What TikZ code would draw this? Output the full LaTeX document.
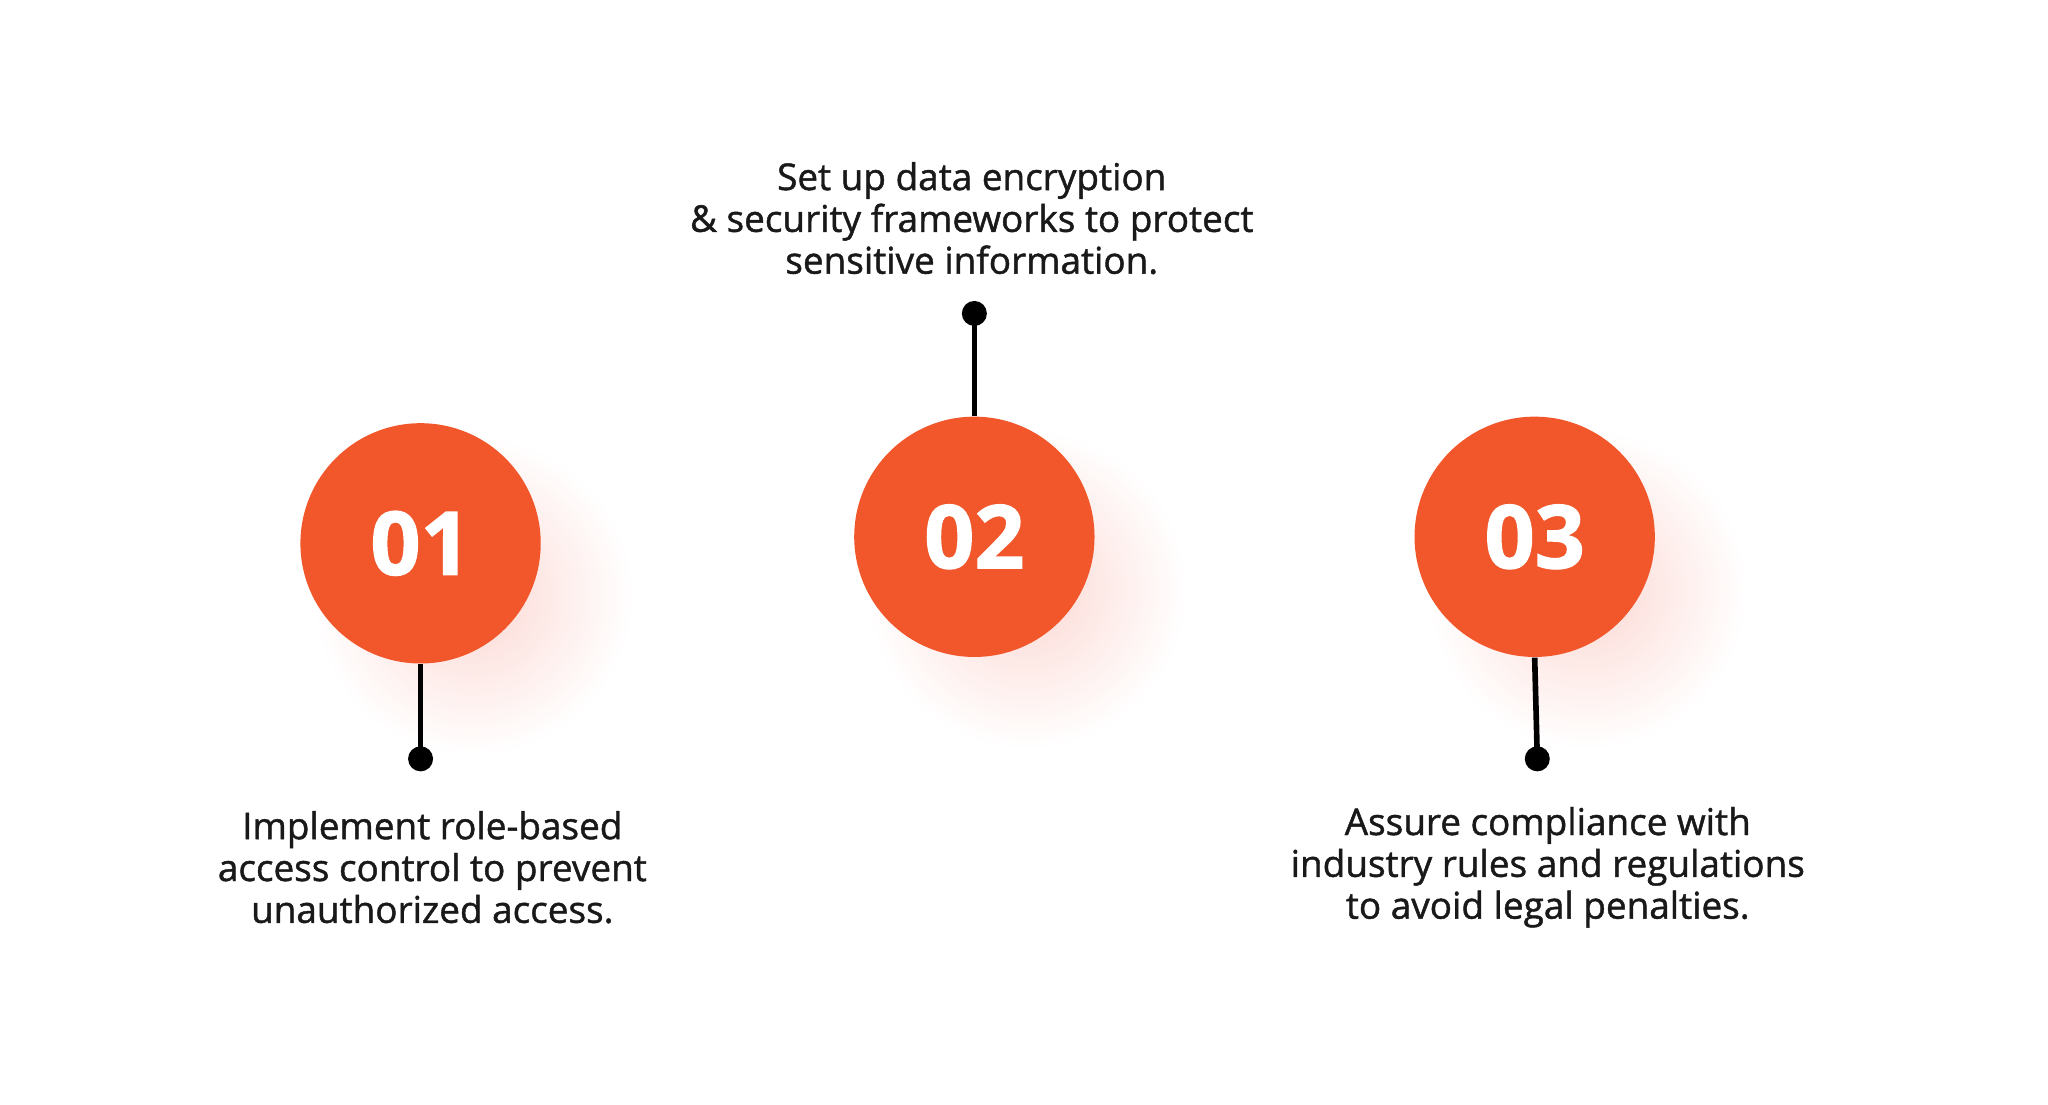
\documentclass[tikz,border=0pt]{standalone}
\usepackage{fontspec}
\setmainfont{Open Sans}
\usetikzlibrary{positioning}

\begin{document}
\begin{tikzpicture}[x=0.01306cm, y=-0.01306cm, font=\fontsize{10.5}{12}\selectfont]
		
		% Define colors
		
		\definecolor{stepOrange}{RGB}{241,87,43}
		
		\definecolor{glowRed}{RGB}{252,215,210}
		
		\tikzset{
			stepcircle/.style={circle, fill=stepOrange, minimum size=2.403cm, inner sep=0pt, text=white, font=\fontsize{25}{25}\selectfont\bfseries\addfontfeature{FakeBold=1.5}},
			stepdot/.style={circle, fill=black, minimum size=0.25cm, inner sep=0pt},
			steptext/.style={align=center, text=black!90, font=\fontsize{10.5}{11.9}\selectfont\addfontfeature{FakeBold=1.2}},
			stepline/.style={line width=1.6pt}
		}
		
		\useasboundingbox (0,0) rectangle (1568,846);
		
		% Soft glow behind the circles
		
		\foreach \cx/\cy in {322/416, 746/411, 1175/411}
			\shade[inner color=glowRed, outer color=white] (\cx+40,\cy+40) circle (1.6cm);
		
		% Circles
		
		\node[stepcircle] (c1) at (322,416) {01};
		
		\node[stepcircle] (c2) at (746,411) {02};
		
		\node[stepcircle] (c3) at (1175,411) {03};
		
		% Dots
		
		\node[stepdot] (d1) at (322,581) {};
		
		\node[stepdot] (d2) at (746,240) {};
		
		\node[stepdot] (d3) at (1177,581) {};
		
		% Connectors
		
		\draw[stepline] (c1.south) -- (d1.center);
		
		\draw[stepline] (c2.north) -- (d2.center);
		
		\draw[stepline] (c3.south) -- (d3.center);
		
		% Texts
		
		\node[steptext] (t1) at (331,664) {Implement role-based\\access control to prevent\\unauthorized access.};
		
		\node[steptext] (t2) at (744,167) {Set up data encryption\\\& security frameworks to protect\\sensitive information.};
		
		\node[steptext] (t3) at (1185,664) {Assure compliance with\\industry rules and regulations\\to avoid legal penalties.};
		
	\end{tikzpicture}
\end{document}
